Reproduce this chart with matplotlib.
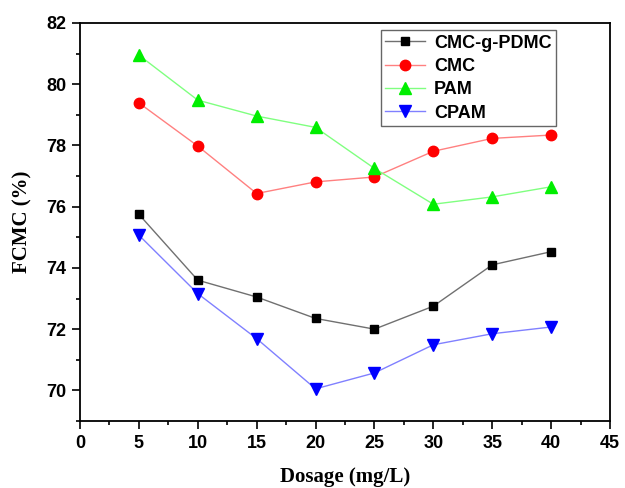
import matplotlib
matplotlib.use("Agg")
import matplotlib.pyplot as plt
from matplotlib.ticker import MultipleLocator

dosage = [5, 10, 15, 20, 25, 30, 35, 40]
cmc_g_pdmc = [75.75, 73.6, 73.05, 72.35, 72.0, 72.75, 74.1, 74.53]
cmc = [79.39, 77.98, 76.43, 76.81, 76.97, 77.81, 78.23, 78.34]
pam = [80.95, 79.48, 78.96, 78.59, 77.25, 76.08, 76.32, 76.65]
cpam = [75.07, 73.16, 71.69, 70.05, 70.57, 71.49, 71.85, 72.07]

series = [
    ("CMC-g-PDMC", cmc_g_pdmc, "s", "black", "#707070", 6),
    ("CMC", cmc, "o", "#ff0000", "#ff8080", 7.5),
    ("PAM", pam, "^", "#00ee00", "#80ff80", 8),
    ("CPAM", cpam, "v", "#0000ff", "#8080ff", 8),
]

fig = plt.figure(figsize=(6.25, 4.88), dpi=100)
ax = fig.add_axes([0.128, 0.1373, 0.848, 0.8156])

for name, vals, mk, mc, lc, ms in series:
    ax.plot(dosage, vals, color=lc, lw=1.0, marker=mk, markersize=ms,
            markerfacecolor=mc, markeredgecolor=mc, label=name)

ax.set_xlim(0, 45)
ax.set_ylim(69, 82)
ax.xaxis.set_major_locator(MultipleLocator(5))
ax.xaxis.set_minor_locator(MultipleLocator(2.5))
ax.yaxis.set_major_locator(MultipleLocator(2))
ax.yaxis.set_minor_locator(MultipleLocator(1))
ax.tick_params(which="both", direction="out", top=False, right=False, width=1.2)
ax.tick_params(which="major", length=6, pad=4)
ax.tick_params(which="minor", length=3)
for s in ax.spines.values():
    s.set_linewidth(1.3)

for lab in ax.get_xticklabels() + ax.get_yticklabels():
    lab.set_fontfamily("Liberation Sans")
    lab.set_fontweight("bold")
    lab.set_fontsize(13)

ax.set_xlabel("Dosage (mg/L)", fontfamily="Liberation Serif", fontweight="bold",
              fontsize=15, labelpad=11)
ax.set_ylabel("FCMC (%)", fontfamily="Liberation Serif", fontweight="bold",
              fontsize=15, labelpad=10)

leg = ax.legend(loc="upper right", bbox_to_anchor=(0.898, 0.982),
                borderaxespad=0.0,
                prop={"family": "Liberation Sans", "weight": "bold", "size": 13},
                frameon=True, fancybox=False, edgecolor="#404040",
                handlelength=2.2, labelspacing=0.35, borderpad=0.25,
                handletextpad=0.5)
leg.get_frame().set_linewidth(1.0)

fig.savefig("out.png", dpi=100)
